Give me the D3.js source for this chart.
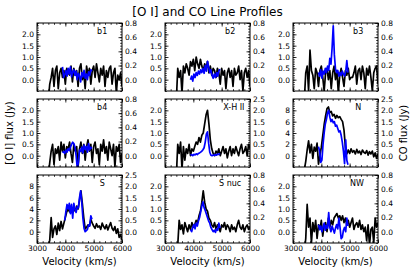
<!DOCTYPE html>
<meta charset="utf-8">
<script src="https://d3js.org/d3.v7.min.js"></script>
<style>
  body { margin: 0; background: #fff; }
  text { font-family: "DejaVu Sans", sans-serif; }
</style>
<div id="chart"></div>
<script>
// velocity grids (km/s)
var vOI = [3400,3450,3500,3550,3600,3650,3700,3750,3800,3850,
           3900,3950,4000,4050,4100,4150,4200,4250,4300,4350,
           4400,4450,4500,4550,4600,4650,4700,4750,4800,4850,
           4900,4950,5000,5050,5100,5150,5200,5250,5300,5350,
           5400,5450,5500,5550,5600,5650,5700,5750,5800,5850,
           5900,5950,6000];
var vCO = [3900,3940,3980,4020,4060,4100,4140,4180,4220,4260,
           4300,4340,4380,4420,4460,4500,4540,4580,4620,4660,
           4700,4740,4780,4820,4860,4900,4940];

var panelNames = ["b1", "b2", "b3", "b4", "X-H II", "N", "S", "S nuc", "NW"];
var panelKind  = ["a", "a", "a", "a", "b", "c", "c", "a", "a"];
var labelVel   = [5300, 5300, 5300, 5300, 5430, 5300, 5300, 5300, 5260];

// [O I] flux (Jy), left axis
var oi_b1 = [-0.9,-0.2,0.1,0.5,-0.3,0.4,0.6,-0.4,0.3,0.5,
             0.1,0.4,-0.2,0.5,0.3,0.2,0.6,-0.1,0.5,0.2,
             0.4,-0.3,0.5,0.7,0.0,0.3,-0.4,0.6,0.2,0.5,
             -0.2,0.4,0.6,0.1,0.7,0.3,-0.1,0.5,0.2,0.6,
             -0.3,0.4,0.1,0.5,0.6,-0.2,0.3,0.5,-0.6,0.2,
             0.0,0.3,-0.3];
var oi_b2 = [-0.9,0.5,0.1,0.4,-0.6,0.6,0.3,0.7,0.5,0.2,
             0.8,0.6,0.9,0.4,1.0,0.7,0.5,0.9,0.6,0.4,
             0.7,0.5,0.8,0.3,0.6,0.2,0.5,0.4,0.1,0.5,
             0.3,-0.2,0.5,0.2,0.4,-0.4,0.3,0.5,0.1,0.4,
             -0.3,0.5,0.2,0.3,0.6,0.0,0.4,-0.5,0.3,0.5,
             0.1,0.4,-0.3];
var oi_b3 = [-0.9,0.3,0.6,-0.5,1.3,0.4,0.2,-0.4,0.5,0.3,
             -0.3,0.4,0.6,0.1,-0.5,0.3,0.5,0.0,0.4,-0.4,
             0.3,0.6,0.0,0.4,-0.6,0.2,0.5,0.1,-0.3,0.4,
             0.2,0.5,0.0,0.1,0.1,0.3,0.6,-0.2,0.4,0.5,
             0.0,0.6,0.3,-0.4,0.5,0.2,0.6,0.1,-0.5,0.3,
             0.5,0.6,-0.2];
var oi_b4 = [-0.9,-0.3,0.2,0.5,-0.4,0.3,0.1,0.4,-0.2,0.6,
             0.2,0.5,-0.1,0.4,0.3,0.6,0.1,-0.3,0.5,0.2,
             0.4,-0.5,0.3,0.6,0.1,0.5,-0.2,0.4,0.7,0.2,
             0.5,-0.3,0.4,0.6,0.1,0.3,-0.4,0.5,0.2,0.7,
             0.1,0.4,-0.2,0.6,0.3,0.0,0.5,-0.5,0.4,0.2,
             0.5,-0.3,0.1];
var oi_xh = [-0.9,0.5,0.1,0.6,-0.6,0.4,-0.2,0.3,0.1,0.5,
             0.0,0.3,0.2,0.4,0.6,0.5,0.8,0.6,0.9,1.0,
             1.4,1.8,2.0,1.4,0.7,0.3,0.1,0.0,0.2,0.1,
             0.3,0.0,0.2,0.4,0.1,0.3,-0.1,0.2,0.4,0.0,
             0.3,0.1,0.4,0.2,0.0,0.3,0.5,0.1,0.2,0.4,
             0.0,0.5,0.3];
var oi_n  = [-2.5,-1.0,1.0,2.6,0.5,2.0,-0.5,1.5,0.8,2.2,
             -1.5,0.0,1.5,3.5,5.5,7.0,8.3,8.6,7.6,7.8,
             7.0,7.3,6.6,7.1,6.7,6.9,6.4,6.0,4.5,1.5,
             0.3,1.0,0.4,1.2,0.6,0.9,0.3,1.1,0.5,0.8,
             0.2,1.0,0.6,0.4,0.9,0.1,0.7,0.3,0.8,-0.2,
             0.5,-0.5,0.3];
var oi_s  = [-2.5,-1.5,2.5,-1.0,0.5,1.0,-0.5,1.5,0.2,1.8,
             0.5,1.5,2.5,3.5,4.0,3.5,4.5,3.8,4.2,3.6,
             4.5,4.0,5.5,7.2,5.0,2.5,0.5,0.8,1.2,1.0,
             2.2,1.5,1.0,0.6,1.4,0.8,1.0,0.4,1.5,0.9,
             0.5,1.2,0.3,1.0,1.6,0.6,0.2,0.9,-0.3,0.5,
             -1.0,-0.5,-1.5];
var oi_snuc = [-0.9,-0.6,0.5,0.1,0.3,-0.1,0.4,0.2,0.0,0.3,
               0.1,0.4,0.2,0.3,0.5,0.4,0.7,0.9,1.3,1.8,
               1.3,1.0,0.9,0.6,0.5,0.3,0.2,0.4,0.1,0.3,
               0.2,0.0,0.3,0.2,0.4,0.1,0.3,0.2,0.0,0.3,
               0.1,0.2,0.0,0.3,0.5,0.2,0.1,0.3,0.0,0.2,
               0.3,0.1,0.2];
var oi_nw = [-0.9,-0.3,1.2,0.2,0.6,-0.5,0.4,0.0,0.5,-0.3,
             0.3,0.1,0.5,-0.2,0.3,0.4,0.0,0.6,0.2,0.5,
             0.3,0.6,0.7,0.8,0.6,0.7,0.5,0.7,0.4,0.6,
             0.3,0.5,0.2,0.4,0.6,0.1,0.3,0.4,0.2,0.5,
             0.1,0.3,0.0,0.2,-0.4,0.3,-0.6,0.1,0.2,-0.5,
             0.6,0.2,0.4];

// CO flux (Jy), right axis
var co_b1 = [0.18,0.03,0.07,0.13,0.05,0.16,0.08,0.18,0.04,0.11,
             0.14,0.06,0.12,0.0,0.09,0.05,-0.03,0.1,0.04,0.13,
             0.02,0.08,0.0,0.11,0.06,0.14,0.12];
var co_b2 = [0.0,0.05,-0.02,0.08,0.03,0.1,0.06,0.12,0.08,0.14,
             0.1,0.16,0.09,0.2,0.12,0.26,0.18,0.1,0.14,0.06,
             0.02,0.08,0.03,0.1,0.05,0.12,0.15];
var co_b3 = [0.1,0.05,0.14,0.02,0.12,0.08,0.16,0.1,0.19,0.13,
             0.3,0.22,0.45,0.76,0.35,0.15,0.1,0.13,0.05,0.1,
             0.06,0.12,0.08,0.05,0.11,0.27,0.1];
var co_b4 = [0.04,0.06,0.03,0.08,0.05,0.1,0.07,0.12,0.16,0.19,
             0.17,0.12,0.0,-0.17,-0.1,0.08,0.06,0.12,0.04,0.15,
             0.09,0.13,0.05,0.17,0.08,0.12,0.1];
var co_xh = [0.02,0.05,0.0,0.06,0.03,0.08,0.05,0.1,0.12,0.16,
             0.2,0.26,0.35,0.6,0.95,1.05,0.55,0.15,0.02,0.0,
             0.03,0.01,0.05,0.02,0.07,0.06,0.1];
var co_n  = [0.4,0.2,-0.3,-0.2,0.5,1.0,1.4,1.6,1.9,2.0,
             1.7,1.5,1.6,1.45,1.5,1.3,1.35,1.2,1.05,1.1,
             0.9,0.6,0.2,-0.35,0.7,-0.2,-0.4];
var co_s  = [null,null,0.5,0.9,1.2,1.0,1.25,0.8,1.2,0.6,
             1.25,1.0,0.85,1.1,1.05,1.5,1.8,1.3,0.6,0.15,
             0.0,0.05,0.1,0.3,0.25,0.7,0.55];
var co_snuc = [0.03,0.0,0.06,0.1,0.04,0.12,0.08,0.15,0.2,0.28,
               0.36,0.42,0.34,0.3,0.25,0.2,0.15,0.12,0.06,0.03,
               0.0,0.02,-0.01,0.04,0.02,0.12,0.05];
var co_nw = [0.1,0.03,0.08,0.0,0.06,0.12,0.02,0.09,0.05,0.27,
             0.06,0.0,0.08,0.03,-0.02,0.05,0.1,0.04,0.19,0.06,
             -0.1,-0.08,0.02,0.06,0.0,0.19,0.08];

var oiSeries = [oi_b1, oi_b2, oi_b3, oi_b4, oi_xh, oi_n, oi_s, oi_snuc, oi_nw];
var coSeries = [co_b1, co_b2, co_b3, co_b4, co_xh, co_n, co_s, co_snuc, co_nw];

// tick labels
var velTicks = [3000, 4000, 5000, 6000];
var oiTicksLow = [0, 0.5, 1, 1.5, 2];
var oiTicksHigh = [0, 2, 4, 6, 8];
var coTicksLow = [0, 0.2, 0.4, 0.6, 0.8];
var coTicksHigh = [0, 0.5, 1, 1.5, 2, 2.5];

var kinds = {
  a: { left: [-0.5, 2.5], lt: oiTicksLow, lf: ".1f", lm: 0.1,
       right: [-0.16, 0.8], rt: coTicksLow, rf: ".1f", rm: 0.04 },
  b: { left: [-0.5, 2.5], lt: oiTicksLow, lf: ".1f", lm: 0.1,
       right: [-0.5, 2.5], rt: coTicksHigh, rf: ".1f", rm: 0.1 },
  c: { left: [-2, 10], lt: oiTicksHigh, lf: "d", lm: 0.4,
       right: [-0.5, 2.5], rt: coTicksHigh, rf: ".1f", rm: 0.1 }
};

var W = 415, H = 276;
var colX = [37, 165, 293], rowY = [23, 99, 175];
var pw = 85, ph = 68;

var svg = d3.select("#chart").append("svg")
    .attr("width", W).attr("height", H);

svg.append("text")
    .attr("x", 207.5).attr("y", 16)
    .attr("text-anchor", "middle")
    .style("font-size", "12px")
    .text("[O I] and CO Line Profiles");

svg.append("text")
    .attr("transform", "translate(13,133)rotate(-90)")
    .attr("text-anchor", "middle")
    .style("font-size", "10px")
    .text("[O I] flux (Jy)");

svg.append("text")
    .attr("transform", "translate(407,133)rotate(-90)")
    .attr("text-anchor", "middle")
    .style("font-size", "10px")
    .text("CO flux (Jy)");

function minorTicks(dom, step) {
  var n = Math.round((dom[1] - dom[0]) / step);
  return d3.range(n + 1).map(function (i) { return dom[0] + i * step; });
}

function styleAxis(g) {
  g.select(".domain").remove();
  g.selectAll("line").attr("stroke", "#000").attr("stroke-width", 0.8);
  g.selectAll("text").style("font-size", "7.5px").attr("fill", "#000")
    .style("font-family", "'DejaVu Sans', sans-serif");
}

panelNames.forEach(function (name, i) {
  var col = i % 3, row = Math.floor(i / 3);
  var k = kinds[panelKind[i]];
  var g = svg.append("g")
      .attr("transform", "translate(" + colX[col] + "," + rowY[row] + ")");

  var x = d3.scaleLinear().domain([3000, 6000]).range([0, pw]);
  var yL = d3.scaleLinear().domain(k.left).range([ph, 0]);
  var yR = d3.scaleLinear().domain(k.right).range([ph, 0]);

  g.append("clipPath").attr("id", "clip" + i)
    .append("rect").attr("width", pw).attr("height", ph);

  var oiLine = d3.line()
      .defined(function (d) { return d != null; })
      .x(function (d, j) { return x(vOI[j]); })
      .y(function (d) { return yL(d); });
  var coLine = d3.line()
      .defined(function (d) { return d != null; })
      .x(function (d, j) { return x(vCO[j]); })
      .y(function (d) { return yR(d); });

  var lines = g.append("g").attr("clip-path", "url(#clip" + i + ")");
  lines.append("path").datum(oiSeries[i])
      .attr("d", oiLine).attr("fill", "none")
      .attr("stroke", "#000").attr("stroke-width", 1.7)
      .attr("stroke-linejoin", "round");
  lines.append("path").datum(coSeries[i])
      .attr("d", coLine).attr("fill", "none")
      .attr("stroke", "#0000ff").attr("stroke-width", 1.7)
      .attr("stroke-linejoin", "round");

  // minor ticks
  g.append("g").call(d3.axisLeft(yL).tickValues(minorTicks(k.left, k.lm))
      .tickSize(-1.8).tickFormat("")).call(styleAxis);
  g.append("g").attr("transform", "translate(" + pw + ",0)")
    .call(d3.axisRight(yR).tickValues(minorTicks(k.right, k.rm))
      .tickSize(-1.8).tickFormat("")).call(styleAxis);
  g.append("g").attr("transform", "translate(0," + ph + ")")
    .call(d3.axisBottom(x).tickValues(minorTicks([3000, 6000], 200))
      .tickSize(-1.8).tickFormat("")).call(styleAxis);
  g.append("g")
    .call(d3.axisTop(x).tickValues(minorTicks([3000, 6000], 200))
      .tickSize(-1.8).tickFormat("")).call(styleAxis);

  // major ticks
  g.append("g").call(d3.axisLeft(yL).tickValues(k.lt)
      .tickSize(-3.5).tickPadding(3).tickFormat(d3.format(k.lf))).call(styleAxis);
  g.append("g").attr("transform", "translate(" + pw + ",0)")
    .call(d3.axisRight(yR).tickValues(k.rt)
      .tickSize(-3.5).tickPadding(3).tickFormat(d3.format(k.rf))).call(styleAxis);
  g.append("g").attr("transform", "translate(0," + ph + ")")
    .call(d3.axisBottom(x).tickValues(velTicks).tickSize(-3.5).tickPadding(3)
      .tickFormat(row === 2 ? d3.format("d") : "")).call(styleAxis);
  g.append("g")
    .call(d3.axisTop(x).tickValues(velTicks).tickSize(-3.5).tickFormat(""))
    .call(styleAxis);

  g.append("rect").attr("width", pw).attr("height", ph)
    .attr("fill", "none").attr("stroke", "#000").attr("stroke-width", 1);

  g.append("text")
    .attr("x", x(labelVel[i])).attr("y", 11)
    .attr("text-anchor", "middle")
    .style("font-size", "8px")
    .text(name);

  if (row === 2) {
    g.append("text")
      .attr("x", pw / 2).attr("y", 265 - rowY[row])
      .attr("text-anchor", "middle")
      .style("font-size", "10px")
      .text("Velocity (km/s)");
  }
});
</script>
